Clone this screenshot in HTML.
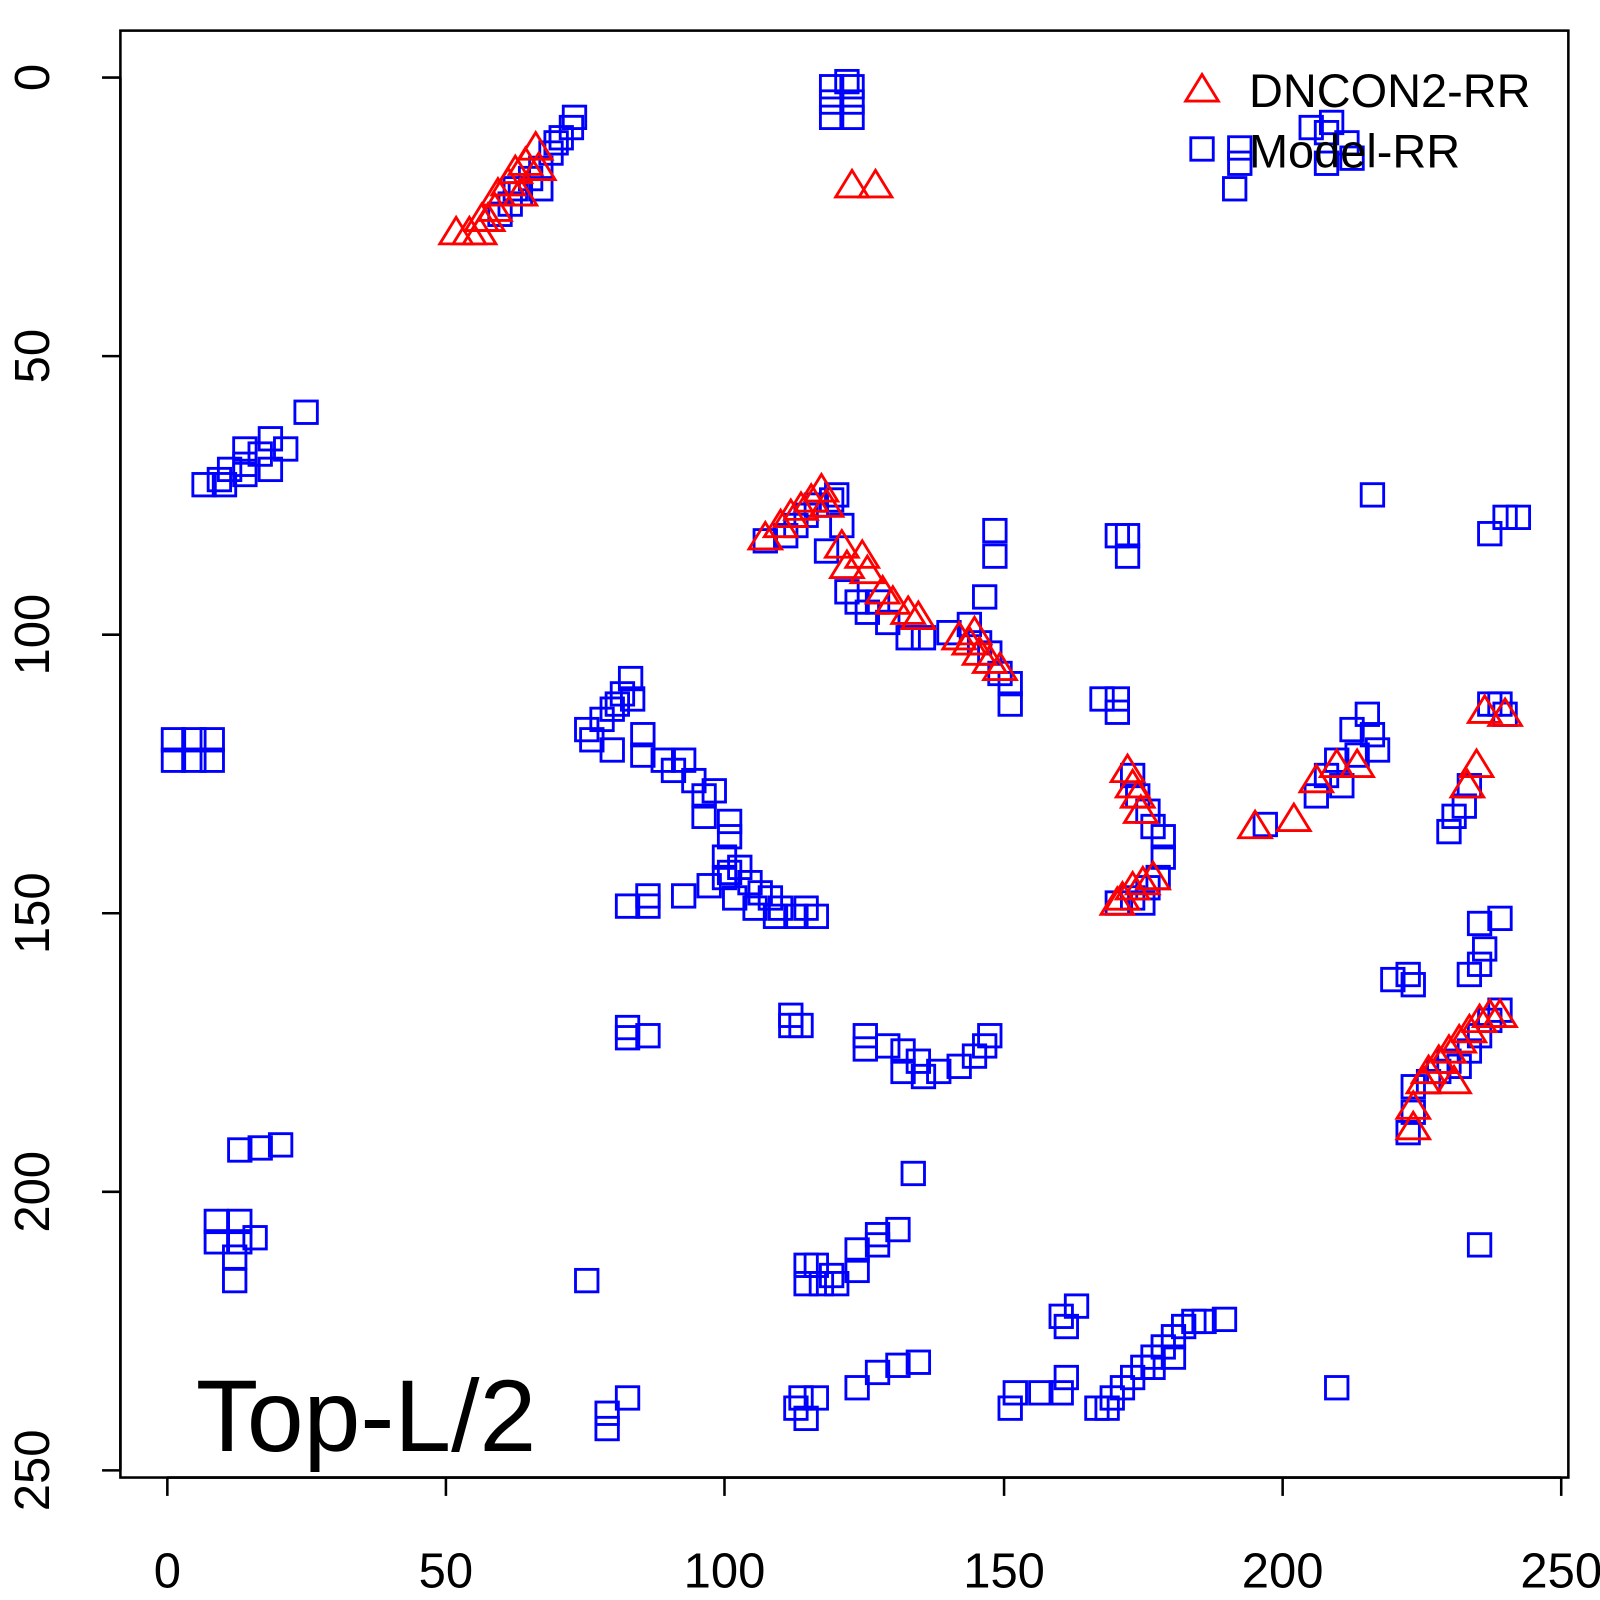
<!DOCTYPE html>
<html><head><meta charset="utf-8"><style>body{margin:0;background:#fff}svg{display:block}</style></head>
<body>
<svg id="s" width="1600" height="1600" xmlns="http://www.w3.org/2000/svg" font-family="Liberation Sans, sans-serif">
<g transform="scale(1.0204)">
<rect x="118" y="30" width="1419" height="1418" fill="none" stroke="#000" stroke-width="2.5"/>
<g stroke="#000" stroke-width="2.5">
<line x1="164" y1="1448" x2="1530" y2="1448"/>
<line x1="164" y1="1448" x2="164" y2="1466"/><line x1="437" y1="1448" x2="437" y2="1466"/><line x1="710" y1="1448" x2="710" y2="1466"/><line x1="984" y1="1448" x2="984" y2="1466"/><line x1="1257" y1="1448" x2="1257" y2="1466"/><line x1="1530" y1="1448" x2="1530" y2="1466"/>
<line x1="118" y1="76" x2="118" y2="1441"/>
<line x1="100" y1="76" x2="118" y2="76"/><line x1="100" y1="349" x2="118" y2="349"/><line x1="100" y1="622" x2="118" y2="622"/><line x1="100" y1="895" x2="118" y2="895"/><line x1="100" y1="1168" x2="118" y2="1168"/><line x1="100" y1="1441" x2="118" y2="1441"/>
</g>
<g font-size="48" text-anchor="middle" fill="#000">
<text x="164" y="1556">0</text><text x="437" y="1556">50</text><text x="710" y="1556">100</text><text x="984" y="1556">150</text><text x="1257" y="1556">200</text><text x="1530" y="1556">250</text>
<text transform="translate(48,76) rotate(-90)">0</text><text transform="translate(48,349) rotate(-90)">50</text><text transform="translate(48,622) rotate(-90)">100</text><text transform="translate(48,895) rotate(-90)">150</text><text transform="translate(48,1168) rotate(-90)">200</text><text transform="translate(48,1441) rotate(-90)">250</text>
</g>
<g id="sq" fill="none" stroke="#00f" stroke-width="2.8"></g>
<g id="tr" fill="none" stroke="#f00" stroke-width="2.8"></g>
<text x="192" y="1422" font-size="100">Top-L/2</text>
<polygon points="1178,73 1194,99 1162,99" fill="none" stroke="#f00" stroke-width="2.8"/>
<rect x="1167" y="135" width="22" height="22" fill="none" stroke="#00f" stroke-width="2.8"/>
<text x="1224" y="105" font-size="46">DNCON2-RR</text>
<text x="1224" y="164" font-size="46">Model-RR</text>
</g>
</svg>
<script>
var S=[490,210,500,200,510,190,520,175,530,165,540,150,550,135,560,125,563,115,545,140,530,185,505,185,
815,85,835,85,815,100,835,100,815,115,835,115,830,80,
1285,125,1300,130,1305,120,1320,140,1325,155,1300,160,1210,185,1215,160,1215,145,
200,475,215,470,225,460,240,455,240,440,255,445,265,460,265,430,280,440,300,404,220,475,240,465,
170,725,190,725,208,725,170,745,190,745,208,745,
235,1127,255,1125,275,1122,212,1197,212,1217,235,1197,235,1217,250,1213,230,1232,230,1255,
575,715,580,725,590,705,600,695,605,690,610,680,618,665,620,685,600,735,630,720,630,740,650,745,660,755,670,745,680,765,690,780,690,800,700,775,715,805,715,820,710,840,715,855,725,850,735,865,745,875,755,880,765,890,780,898,800,898,790,890,710,860,720,880,740,890,760,898,670,878,695,868,615,888,635,888,635,878,
615,1007,615,1017,635,1015,775,995,775,1005,785,1005,848,1015,848,1028,870,1025,885,1030,885,1050,900,1040,905,1055,920,1050,940,1045,955,1035,965,1025,970,1015,895,1150,
575,1255,595,1385,595,1400,615,1370,780,1380,790,1390,785,1370,800,1370,840,1360,860,1345,880,1338,900,1335,790,1258,805,1258,820,1258,840,1245,840,1225,860,1220,860,1210,880,1205,800,1240,815,1250,790,1240,
990,1380,995,1365,1020,1365,1040,1365,1045,1350,1040,1290,1055,1280,1045,1300,1075,1380,1085,1380,1090,1370,1100,1360,1110,1350,1120,1340,1130,1330,1140,1320,1150,1310,1160,1300,1170,1295,1180,1295,1200,1293,1150,1330,1130,1340,1310,1360,
750,530,770,525,780,515,790,505,800,495,815,490,820,485,810,540,825,515,830,580,840,590,850,600,860,590,870,610,890,625,905,625,930,620,950,612,960,630,970,640,980,660,990,670,990,690,975,520,975,545,965,585,
1095,525,1105,525,1105,545,1080,685,1095,685,1095,698,1345,485,1460,523,1475,507,1488,507,1340,700,1345,720,1350,735,1325,715,1330,740,1310,745,1300,760,1290,780,1315,770,1240,808,1110,760,1115,780,1125,795,1130,810,1140,820,1140,840,1135,860,1125,870,1110,880,1095,885,1120,885,1470,690,1475,700,1460,690,1440,770,1435,790,1425,800,1420,815,1365,960,1380,955,1385,965,1440,955,1450,945,1455,930,1450,905,1470,900,1450,1220,1385,1065,1400,1060,1385,1090,1380,1110,1430,1045,1440,1030,1450,1015,1460,1000,1470,990,1410,1050,1420,1040];
var T=[447,228,460,228,470,228,472,215,485,205,488,190,498,180,505,168,510,190,515,160,525,145,528,165,478,215,835,182,858,182,
750,527,765,515,775,505,785,498,795,490,805,480,810,495,825,535,830,555,845,545,850,560,865,580,875,590,890,600,900,605,940,625,950,630,960,640,970,648,980,655,955,620,
1105,755,1110,770,1115,780,1118,795,1100,880,1110,870,1120,865,1130,860,1095,885,1230,810,1268,803,1290,765,1310,750,1330,750,1455,697,1475,700,1447,750,1438,770,1385,1085,1385,1105,1395,1060,1425,1060,1410,1040,1420,1030,1430,1020,1440,1010,1450,1000,1460,995,1470,995,1400,1050];
var h='';for(var i=0;i<S.length;i+=2)h+='<rect x="'+(S[i]-11)+'" y="'+(S[i+1]-11)+'" width="22" height="22"/>';
document.getElementById('sq').innerHTML=h;h='';
for(i=0;i<T.length;i+=2){var x=T[i],y=T[i+1];h+='<polygon points="'+x+','+(y-15)+' '+(x+16)+','+(y+11)+' '+(x-16)+','+(y+11)+'"/>';}
document.getElementById('tr').innerHTML=h;
</script>
</body></html>
